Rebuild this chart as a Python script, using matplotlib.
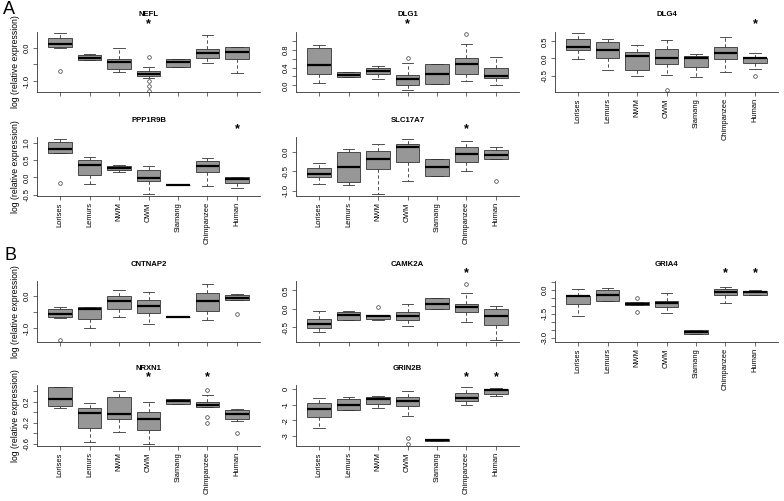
import matplotlib
matplotlib.use("Agg")
import matplotlib.pyplot as plt

plt.rcParams['font.family'] = ['Liberation Sans', 'DejaVu Sans']

groups = ['Lorises', 'Lemurs', 'NWM', 'OWM', 'Siamang', 'Chimpanzee', 'Human']

# each box: (whisker low, q1, median, q3, whisker high)
nefl = [(-0.01, 0.04, 0.12, 0.30, 0.45), (-0.37, -0.37, -0.29, -0.20, -0.18),
        (-0.74, -0.64, -0.44, -0.34, 0.0), (-0.92, -0.84, -0.78, -0.71, -0.59),
        (-0.58, -0.58, -0.44, -0.33, -0.33), (-0.46, -0.31, -0.15, -0.03, 0.38),
        (-0.77, -0.34, -0.13, 0.02, 0.04)]
nefl_out = [[-0.69], [], [], [-0.27, -1.0, -1.15, -1.31], [], [], []]

dlg1 = [(0.05, 0.26, 0.46, 0.83, 0.90), (0.18, 0.18, 0.24, 0.29, 0.29),
        (0.15, 0.26, 0.33, 0.39, 0.43), (-0.11, 0.01, 0.14, 0.24, 0.50),
        (0.02, 0.02, 0.26, 0.49, 0.49), (0.09, 0.26, 0.48, 0.61, 0.92),
        (0.01, 0.16, 0.21, 0.39, 0.64)]
dlg1_out = [[], [], [], [0.61], [], [1.15], []]

dlg4 = [(-0.02, 0.24, 0.34, 0.58, 0.74), (-0.34, 0.0, 0.24, 0.48, 0.56),
        (-0.52, -0.34, 0.07, 0.19, 0.40), (-0.49, -0.17, 0.0, 0.26, 0.53),
        (-0.53, -0.26, 0.02, 0.07, 0.12), (-0.40, -0.03, 0.16, 0.34, 0.63),
        (-0.32, -0.14, 0.0, 0.02, 0.17)]
dlg4_out = [[], [], [], [-0.91], [], [], [-0.50]]

ppp1r9b = [(0.72, 0.72, 0.83, 1.03, 1.11), (-0.20, 0.08, 0.37, 0.49, 0.58),
           (0.15, 0.21, 0.26, 0.34, 0.37), (-0.48, -0.10, -0.03, 0.22, 0.34),
           (-0.23, -0.23, -0.23, -0.23, -0.23), (-0.24, 0.16, 0.33, 0.48, 0.56),
           (-0.32, -0.15, -0.05, 0.0, 0.0)]
ppp1r9b_out = [[-0.15], [], [], [], [], [], []]

slc17a7 = [(-0.82, -0.65, -0.58, -0.42, -0.29), (-0.86, -0.78, -0.38, -0.01, 0.08),
           (-1.09, -0.44, -0.19, 0.02, 0.21), (-0.76, -0.25, 0.12, 0.21, 0.33),
           (-0.61, -0.61, -0.38, -0.18, -0.18), (-0.48, -0.25, -0.05, 0.14, 0.28),
           (-0.19, -0.19, -0.07, 0.06, 0.14)]
slc17a7_out = [[], [], [], [], [], [], [-0.76]]

cntnap2 = [(-0.69, -0.65, -0.57, -0.41, -0.34), (-0.98, -0.72, -0.41, -0.34, -0.34),
           (-0.66, -0.39, -0.16, 0.0, 0.19), (-0.88, -0.54, -0.31, -0.13, 0.12),
           (-0.66, -0.66, -0.66, -0.66, -0.66), (-0.74, -0.47, -0.15, 0.10, 0.38),
           (-0.13, -0.13, -0.06, 0.02, 0.06)]
cntnap2_out = [[-1.36], [], [], [], [], [], [-0.57]]

camk2a = [(-0.63, -0.54, -0.43, -0.27, -0.07), (-0.32, -0.31, -0.18, -0.09, -0.07),
          (-0.32, -0.27, -0.21, -0.18, -0.17), (-0.46, -0.32, -0.21, -0.09, 0.14),
          (-0.01, -0.01, 0.14, 0.29, 0.29), (-0.37, -0.09, 0.04, 0.14, 0.42),
          (-0.86, -0.45, -0.21, 0.0, 0.08)]
camk2a_out = [[], [], [0.05], [], [], [0.69], []]

gria4 = [(-1.63, -0.90, -0.41, -0.39, 0.06), (-0.71, -0.71, -0.35, 0.0, 0.12),
         (-0.96, -0.96, -0.88, -0.76, -0.76), (-1.47, -1.10, -0.82, -0.69, -0.18),
         (-2.73, -2.73, -2.63, -2.53, -2.53), (-0.80, -0.35, -0.14, 0.06, 0.20),
         (-0.35, -0.35, -0.14, -0.10, 0.02)]
gria4_out = [[], [], [-0.49, -1.41], [], [], [], []]

nrxn1 = [(0.075, 0.13, 0.26, 0.475, 0.475), (-0.57, -0.30, -0.02, 0.09, 0.18),
         (-0.38, -0.13, -0.03, 0.29, 0.41), (-0.60, -0.33, -0.13, 0.01, 0.20),
         (0.15, 0.15, 0.21, 0.25, 0.25), (0.10, 0.10, 0.14, 0.19, 0.325),
         (-0.16, -0.12, -0.025, 0.04, 0.056)]
nrxn1_out = [[], [], [], [], [], [0.43, -0.09, -0.21], [-0.39]]

grin2b = [(-2.49, -1.77, -1.30, -0.87, -0.57), (-1.34, -1.34, -1.04, -0.64, -0.51),
          (-1.21, -0.96, -0.64, -0.53, -0.47), (-1.70, -1.11, -0.79, -0.53, -0.15),
          (-3.31, -3.31, -3.25, -3.19, -3.19), (-1.04, -0.74, -0.57, -0.26, 0.11),
          (-0.47, -0.32, -0.09, 0.0, 0.06)]
grin2b_out = [[], [], [], [-3.13, -3.51], [], [], []]

W, H = 784, 501
fig = plt.figure(figsize=(W / 100, H / 100), dpi=100)

col_left = [37, 296, 555]
row_span = [(32, 92), (137, 196), (281, 342), (385, 446)]
ax_w = 223
gray = '#333333'


def draw(col, row, title, stats, outs, stars, ylim, yticks, ylabels,
         show_x=False, show_ylab=False):
    top, bot = row_span[row]
    ax = fig.add_axes([col_left[col] / W, 1 - bot / H, ax_w / W, (bot - top) / H])
    bx = [dict(whislo=s[0], q1=s[1], med=s[2], q3=s[3], whishi=s[4], fliers=o)
          for s, o in zip(stats, outs)]
    ax.bxp(bx, positions=range(1, 8), widths=0.8, patch_artist=True,
           boxprops=dict(facecolor='#979797', edgecolor=gray, linewidth=0.6),
           medianprops=dict(color='black', linewidth=1.6),
           whiskerprops=dict(color=gray, linewidth=0.6, linestyle=(0, (4, 3))),
           capprops=dict(color=gray, linewidth=0.6),
           flierprops=dict(marker='o', markerfacecolor='none', markeredgecolor=gray,
                           markersize=2.6, markeredgewidth=0.5))
    ax.set_xlim(0.22, 7.78)
    ax.set_ylim(*ylim)
    ax.set_yticks(yticks)
    ax.set_yticklabels(ylabels)
    ax.set_xticks(range(1, 8))
    if show_x:
        ax.set_xticklabels(groups, rotation=90, fontsize=5.4)
    else:
        ax.set_xticklabels([])
    for sp in ['top', 'right']:
        ax.spines[sp].set_visible(False)
    for sp in ['left', 'bottom']:
        ax.spines[sp].set_color(gray)
        ax.spines[sp].set_linewidth(0.6)
    ax.tick_params(length=3, width=0.5, color=gray, pad=1.5)
    ax.tick_params(axis='y', labelrotation=90, labelsize=5.5)
    for lab in ax.get_yticklabels():
        lab.set_va('center')
    if show_ylab:
        ax.set_ylabel('log (relative expression)', fontsize=6.2, labelpad=3)
    ax.annotate(title, xy=(0.5, 1), xycoords='axes fraction', xytext=(0, 17 * 0.72),
                textcoords='offset points', ha='center', va='center',
                fontsize=5.6, fontweight='bold')
    for g in stars:
        ax.annotate('*', xy=(groups.index(g) + 1, 1), xycoords=('data', 'axes fraction'),
                    xytext=(0, 8 * 0.72), textcoords='offset points', ha='center',
                    va='center', fontsize=9, fontweight='bold')
    return ax


draw(0, 0, 'NEFL', nefl, nefl_out, ['OWM'], (-1.33, 0.48),
     [-1.0, -0.5, 0.0], ['-1.0', '', '0.0'], show_ylab=True)
draw(1, 0, 'DLG1', dlg1, dlg1_out, ['OWM'], (-0.15, 1.2),
     [0.0, 0.2, 0.4, 0.6, 0.8, 1.0], ['0.0', '', '0.4', '', '0.8', ''])
draw(2, 0, 'DLG4', dlg4, dlg4_out, ['Human'], (-0.98, 0.77),
     [-0.5, 0.0, 0.5], ['-0.5', '0.0', '0.5'], show_x=True)
draw(0, 1, 'PPP1R9B', ppp1r9b, ppp1r9b_out, ['Human'], (-0.54, 1.17),
     [-0.5, 0.0, 0.5, 1.0], ['-0.5', '0.0', '0.5', '1.0'], show_x=True, show_ylab=True)
draw(1, 1, 'SLC17A7', slc17a7, slc17a7_out, ['Chimpanzee'], (-1.14, 0.39),
     [-1.0, -0.5, 0.0], ['-1.0', '-0.5', '0.0'], show_x=True)

draw(0, 2, 'CNTNAP2', cntnap2, cntnap2_out, [], (-1.43, 0.47),
     [-1.0, -0.5, 0.0], ['-1.0', '', '0.0'], show_ylab=True)
draw(1, 2, 'CAMK2A', camk2a, camk2a_out, ['Chimpanzee'], (-0.91, 0.76),
     [-0.5, 0.0, 0.5], ['-0.5', '0.0', '0.5'])
draw(2, 2, 'GRIA4', gria4, gria4_out, ['Chimpanzee', 'Human'], (-3.25, 0.55),
     [-3.0, -2.5, -2.0, -1.5, -1.0, -0.5, 0.0, 0.5],
     ['-3.0', '', '', '-1.5', '', '', '0.0', ''], show_x=True)
draw(0, 3, 'NRXN1', nrxn1, nrxn1_out, ['OWM', 'Chimpanzee'], (-0.64, 0.52),
     [-0.6, -0.4, -0.2, 0.0, 0.2, 0.4], ['-0.6', '', '-0.2', '', '0.2', ''],
     show_x=True, show_ylab=True)
draw(1, 3, 'GRIN2B', grin2b, grin2b_out, ['Chimpanzee', 'Human'], (-3.66, 0.26),
     [-3, -2, -1, 0], ['-3', '-2', '-1', '0'], show_x=True)

fig.text(9 / W, 1 - 9 / H, 'A', fontsize=13, ha='center', va='center')
fig.text(10 / W, 1 - 255 / H, 'B', fontsize=13, ha='center', va='center')

fig.savefig('out.png', dpi=100)
